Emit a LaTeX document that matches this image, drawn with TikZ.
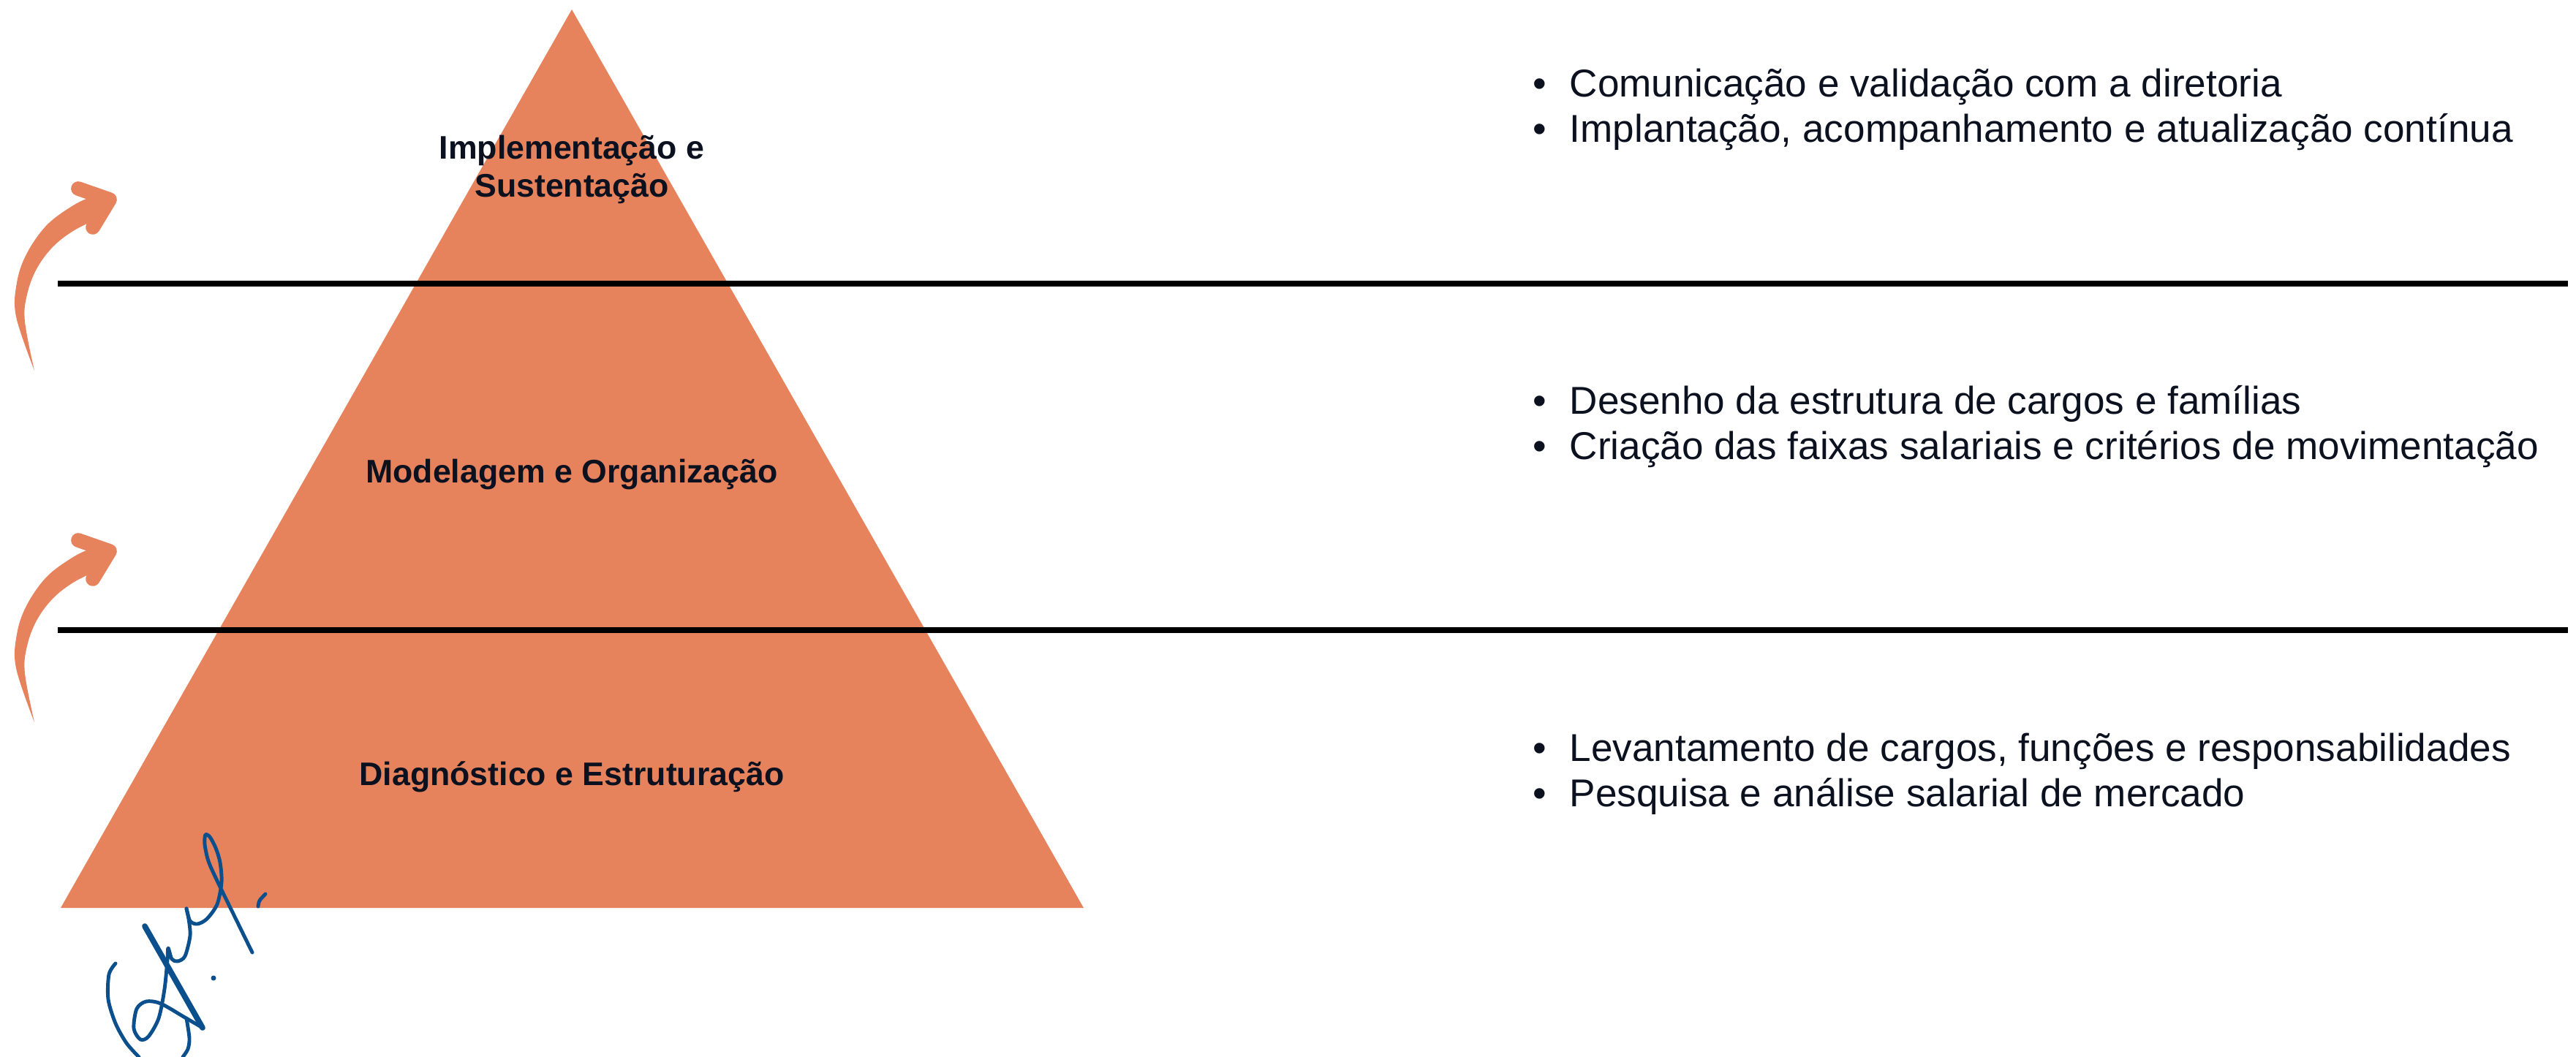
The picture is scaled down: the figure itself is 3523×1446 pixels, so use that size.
\documentclass[tikz,border=0pt]{standalone}
\usepackage{fontspec}
\setmainfont{Liberation Sans}
\definecolor{pyr}{RGB}{230,131,92}
\definecolor{ink}{RGB}{12,17,32}
\definecolor{sig}{RGB}{11,80,140}
\begin{document}
\begin{tikzpicture}[x=0.01cm,y=-0.01cm,
  lbl/.style={inner sep=0pt, anchor=base, text=ink, font=\fontsize{12.7pt}{15pt}\selectfont\bfseries},
  rtxt/.style={inner sep=0pt, anchor=base west, text=ink, font=\fontsize{15.1pt}{18pt}\selectfont},
  sepline/.style={line width=2.1pt, black},
  sigline/.style={sig, line width=1.4pt, line cap=round, line join=round},
  arrowbody/.style={pyr},
  arrowhead/.style={pyr, line width=5.6pt, line cap=round, line join=round},
]
\useasboundingbox (0,0) rectangle (3523,1446);
\fill[white] (0,0) rectangle (3523,1446);

% pyramid
\coordinate (apex) at (782,13);
\coordinate (bl) at (83,1242);
\coordinate (br) at (1482,1242);
\fill[pyr] (apex) -- (bl) -- (br) -- cycle;

% separator lines
\coordinate (s1a) at (79,388);
\coordinate (s1b) at (3512,388);
\coordinate (s2a) at (79,862);
\coordinate (s2b) at (3512,862);
\draw[sepline] (s1a) -- (s1b);
\draw[sepline] (s2a) -- (s2b);

% curved arrows
\foreach \dy in {0,481} {
  \begin{scope}[shift={(0,\dy)}]
    \fill[arrowbody] plot[smooth, tension=0.6] coordinates {(47,507) (22,433) (23,387) (36,348) (63,309) (97,283) (124,270) (146,268)}
      -- (148,282) -- plot[smooth, tension=0.6] coordinates {(132,300) (100,316) (72,338) (50,368) (37,403) (34,440) (47,507)} -- cycle;
    \draw[arrowhead] (107,258) -- (150,273) -- (127,311);
  \end{scope}
}

% pyramid labels
\node[lbl] (l1a) at (782,218) {Implementação e};
\node[lbl] (l1b) at (782,270) {Sustentação};
\node[lbl] (l2) at (782,660) {Modelagem e Organização};
\node[lbl] (l3) at (782,1074) {Diagnóstico e Estruturação};

% right texts
\node[rtxt] (r1a) at (2096,133) {\makebox[0.5cm][l]{•}Comunicação e validação com a diretoria};
\node[rtxt] (r1b) at (2096,195) {\makebox[0.5cm][l]{•}Implantação, acompanhamento e atualização contínua};
\node[rtxt] (r2a) at (2096,567) {\makebox[0.5cm][l]{•}Desenho da estrutura de cargos e famílias};
\node[rtxt] (r2b) at (2096,629) {\makebox[0.5cm][l]{•}Criação das faixas salariais e critérios de movimentação};
\node[rtxt] (r3a) at (2096,1041) {\makebox[0.5cm][l]{•}Levantamento de cargos, funções e responsabilidades};
\node[rtxt] (r3b) at (2096,1103) {\makebox[0.5cm][l]{•}Pesquisa e análise salarial de mercado};

% signature
\draw[sigline] plot[smooth] coordinates {(158,1318) (149,1333) (148,1367) (158,1400) (173,1427) (190,1446)};
\draw[sigline, line width=2.2pt] (198,1267) -- (277,1406);
\draw[sigline] plot[smooth] coordinates {(277,1406) (253,1392) (220,1373) (200,1370) (187,1380) (183,1407) (192,1422) (203,1418) (217,1393) (225,1353) (229,1313) (230,1297) (235,1312) (243,1315) (253,1308) (260,1280) (258,1257) (255,1243)};
\draw[sigline] plot[smooth] coordinates {(255,1243) (260,1260) (270,1264) (283,1257) (297,1237) (303,1207) (301,1180) (295,1160) (287,1145) (281,1142) (280,1155) (285,1178) (297,1205) (320,1252) (345,1303)};
\draw[sigline] plot[smooth] coordinates {(255,1393) (259,1420) (257,1435) (250,1446)};
\draw[sigline] plot[smooth] coordinates {(353,1240) (355,1232) (363,1223)};
\fill[sig] (292,1338) circle (3.5);
\end{tikzpicture}
\end{document}
